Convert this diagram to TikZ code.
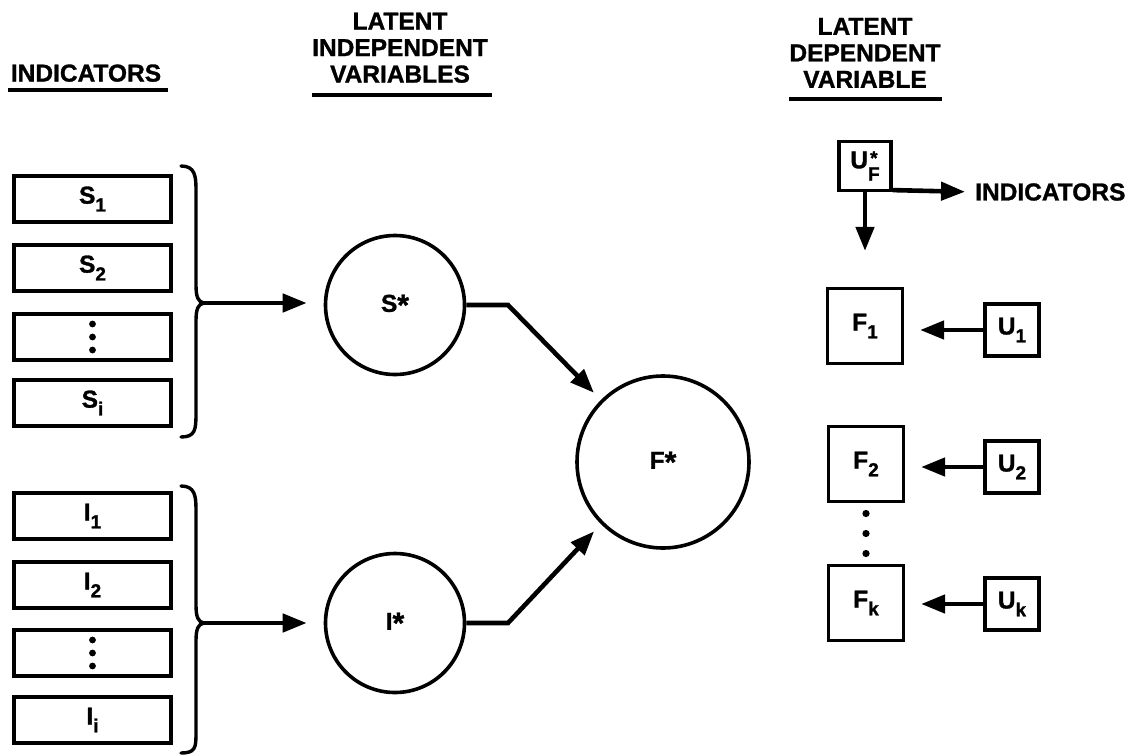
\documentclass[tikz,border=0pt]{standalone}
\usepackage{fontspec}
\setmainfont{Liberation Sans}[BoldFeatures={FakeBold=1.2}]
\usetikzlibrary{arrows.meta,calc}
% lowered subscript and raised star in the bold sans labels
\newcommand{\sbs}[1]{\raisebox{-0.32em}{\fontsize{19}{19}\selectfont #1}}
\newcommand{\stx}{\raisebox{-3.5pt}{\fontsize{30}{30}\selectfont *}}
\begin{document}
\begin{tikzpicture}[x=1pt,y=-1pt,
  every node/.style={font=\fontsize{24.5}{26.5}\selectfont\bfseries},
  indbox/.style={draw, line width=3.2pt, minimum width=157pt, minimum height=46pt, inner sep=0pt},
  latent/.style={draw, circle, line width=3.6pt, inner sep=0pt},
  sqbox/.style={draw, line width=3.2pt, inner sep=0pt},
  head/.style={align=center, anchor=south, inner sep=0pt},
  rule/.style={line width=3.2pt},
  conn/.style={line width=4.6pt, -{Triangle[length=24pt,width=18pt]}},
  brace/.style={line width=3.4pt, line cap=round}
]
\useasboundingbox (0,0) rectangle (1143,755);

% column headings
\node[head] (hind) at (86,82) {INDICATORS};
\node[head] (hlat) at (400,83) {LATENT\\INDEPENDENT\\VARIABLES};
\node[head] (hdep) at (865,88) {LATENT\\DEPENDENT\\VARIABLE};
\draw[rule] (8,90) -- (168,90);
\draw[rule] (312,95) -- (492,95);
\draw[rule] (789,99) -- (942,99);

% indicator boxes of S*
\node[indbox] (s1) at (92.5,199) {S\sbs{1}};
\node[indbox] (s2) at (92.5,268) {S\sbs{2}};
\node[indbox] (sd) at (92.5,337) {};
\node[indbox] (si) at (92.5,403) {S\sbs{i}};
\foreach \d in {-13,0,13} \fill ([yshift=\d pt]sd.center) circle (3.4pt);

% indicator boxes of I*
\node[indbox] (i1) at (92.5,516) {I\sbs{1}};
\node[indbox] (i2) at (92.5,585) {I\sbs{2}};
\node[indbox] (id) at (92.5,653) {};
\node[indbox] (ii) at (92.5,720) {I\sbs{i}};
\foreach \d in {-13,0,13} \fill ([yshift=\d pt]id.center) circle (3.4pt);

% latent variables
\node[latent, minimum size=139pt] (S) at (395,305) {S\stx};
\node[latent, minimum size=139pt] (I) at (395,623) {I\stx};
\node[latent, minimum size=172pt] (F) at (663,462) {F\stx};

% braces gathering the indicators
\coordinate (sb) at (204,303);
\coordinate (ib) at (204,623);
\draw[brace] (181,166) .. controls (195,166) and (196,176) .. (196,190) -- (196,285)
  .. controls (196,297) and (198,302) .. (sb)
  .. controls (198,304) and (196,309) .. (196,321) -- (196,414)
  .. controls (196,430) and (195,437) .. (181,437);
\draw[brace] (181,486) .. controls (195,486) and (196,496) .. (196,510) -- (196,605)
  .. controls (196,617) and (198,622) .. (ib)
  .. controls (198,624) and (196,629) .. (196,641) -- (196,734)
  .. controls (196,748) and (195,753) .. (181,753);
\draw[conn, shorten >=17pt] (sb) -- (sb -| S.west);
\draw[conn, shorten >=17pt] (ib) -- (ib -| I.west);

% paths into F*
\coordinate (sbend) at (508,305);
\coordinate (ibend) at (508,623);
\draw[conn, shorten >=10pt] (S.east) -- (sbend) -- (F.135);
\draw[conn, shorten >=10pt] (I.east) -- (ibend) -- (F.225);

% latent dependent variable
\node[sqbox, minimum width=52pt, minimum height=49pt] (uf) at (865,166)
  {U\raisebox{-0.5em}{\fontsize{19}{19}\selectfont\shortstack{*\\F}}};
\node[anchor=west, inner sep=0pt] (rind) at (975,192) {INDICATORS};
\draw[conn, shorten >=10pt] ([yshift=2pt]uf.south east) -- (rind.west);

\node[sqbox, minimum size=75pt] (f1) at (865,326) {F\sbs{1}};
\node[sqbox, minimum size=75pt] (f2) at (866,464) {F\sbs{2}};
\node[sqbox, minimum size=75pt] (fk) at (866,603) {F\sbs{k}};
\node[sqbox, minimum width=54pt, minimum height=52pt] (u1) at (1012,330) {U\sbs{1}};
\node[sqbox, minimum width=54pt, minimum height=52pt] (u2) at (1012,467) {U\sbs{2}};
\node[sqbox, minimum width=54pt, minimum height=52pt] (uk) at (1012,604) {U\sbs{k}};

\draw[conn, shorten >=36pt] (uf.south) -- (f1.north);
\draw[conn, shorten >=16pt] (u1.west) -- (u1.west -| f1.east);
\draw[conn, shorten >=16pt] (u2.west) -- (u2.west -| f2.east);
\draw[conn, shorten >=16pt] (uk.west) -- (uk.west -| fk.east);

\coordinate (fdots) at ($(f2.south)!0.5!(fk.north)$);
\foreach \d in {-20,0,20} \fill ([yshift=\d pt]fdots) circle (3.6pt);
\end{tikzpicture}
\end{document}
